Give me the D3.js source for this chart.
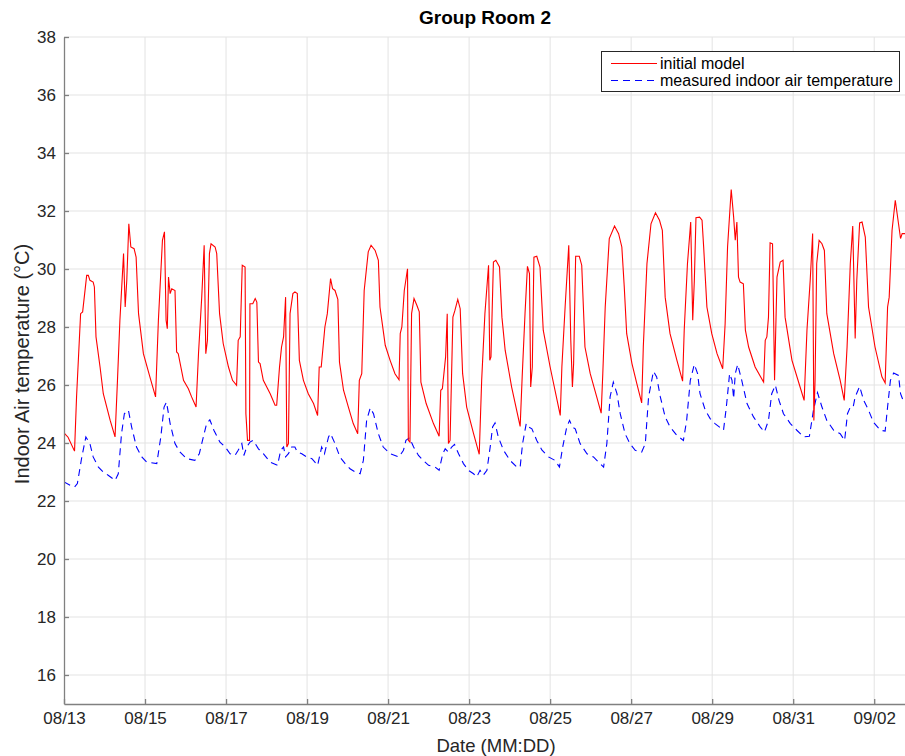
<!DOCTYPE html>
<html>
<head>
<meta charset="utf-8">
<script src="https://cdn.jsdelivr.net/npm/d3@7"></script>
<style>
  body { margin: 0; background: #fff; }
  svg { display: block; font-family: "Liberation Sans", Arial, sans-serif; }
</style>
</head>
<body>
<div id="chart"></div>
<script>
// days since 08/13 00:00 and temperature (°C)
const redDay = [0.00,0.10,0.26,0.31,0.41,0.46,0.56,0.60,0.64,0.72,0.75,0.79,0.89,0.97,1.14,1.26,1.32,1.38,1.47,1.51,1.55,1.60,1.65,1.73,1.78,1.84,1.96,2.12,2.26,2.33,2.43,2.48,2.52,2.55,2.58,2.62,2.66,2.74,2.78,2.82,2.95,3.07,3.15,3.26,3.32,3.40,3.46,3.50,3.54,3.59,3.63,3.73,3.77,3.84,3.93,4.06,4.16,4.26,4.30,4.35,4.40,4.47,4.49,4.53,4.58,4.59,4.66,4.72,4.76,4.80,4.84,4.92,5.09,5.21,5.25,5.32,5.37,5.42,5.47,5.50,5.54,5.58,5.65,5.70,5.76,5.81,5.91,6.03,6.16,6.26,6.30,6.35,6.44,6.50,6.58,6.63,6.69,6.76,6.80,6.90,7.02,7.14,7.25,7.29,7.35,7.41,7.51,7.58,7.68,7.76,7.80,7.93,8.05,8.17,8.27,8.30,8.34,8.40,8.48,8.50,8.54,8.58,8.64,8.71,8.77,8.81,8.94,9.12,9.26,9.30,9.34,9.42,9.46,9.49,9.53,9.60,9.65,9.72,9.78,9.84,9.94,10.11,10.25,10.31,10.39,10.48,10.51,10.54,10.60,10.66,10.75,10.81,10.89,11.05,11.26,11.31,11.38,11.44,11.49,11.52,11.56,11.60,11.67,11.75,11.83,12.00,12.25,12.29,12.37,12.46,12.51,12.55,12.58,12.63,12.72,12.78,12.86,12.99,13.15,13.26,13.30,13.36,13.46,13.59,13.69,13.77,13.83,13.89,14.02,14.14,14.26,14.30,14.39,14.49,14.60,14.70,14.77,14.84,14.96,15.13,15.27,15.31,15.39,15.47,15.52,15.56,15.60,15.69,15.75,15.79,15.87,15.99,16.12,16.26,16.32,16.38,16.47,16.53,16.57,16.61,16.65,16.69,16.77,16.82,16.90,17.06,17.27,17.31,17.35,17.39,17.43,17.49,17.54,17.60,17.68,17.75,17.80,17.97,18.17,18.27,18.34,18.42,18.48,18.51,18.54,18.58,18.64,18.71,18.77,18.83,19.00,19.16,19.26,19.33,19.41,19.47,19.53,19.57,19.64,19.70,19.78,19.86,20.02,20.19,20.27,20.33,20.37,20.44,20.52,20.60,20.65,20.69,20.77];
const redTemp = [24.35,24.20,23.72,25.59,28.46,28.52,29.78,29.78,29.61,29.55,29.38,27.66,26.62,25.70,24.78,24.21,26.16,28.23,30.53,28.69,29.61,31.56,30.76,30.70,30.41,28.46,27.08,26.28,25.59,28.23,30.99,31.28,28.23,27.94,29.72,29.15,29.32,29.26,27.14,27.08,26.16,25.87,25.59,25.24,27.08,29.03,30.82,27.08,27.54,30.53,30.87,30.76,30.53,28.46,27.43,26.62,26.16,25.99,27.54,27.66,30.13,30.07,25.01,24.09,24.09,28.80,28.80,28.98,28.86,26.79,26.74,26.16,25.70,25.30,25.30,26.62,27.31,27.66,29.03,23.86,23.98,28.46,29.15,29.21,29.15,26.85,26.16,25.70,25.36,24.95,26.62,26.62,28.00,28.46,29.67,29.32,29.26,28.95,26.79,25.82,25.24,24.67,24.32,26.16,26.39,29.26,30.59,30.82,30.64,30.30,28.69,27.37,26.85,26.39,26.18,27.77,28.00,29.26,30.01,24.09,24.03,28.46,28.98,28.75,28.52,26.10,25.36,24.67,24.23,25.82,25.87,26.97,28.46,23.98,24.09,28.34,28.57,28.95,28.63,26.39,25.24,24.32,23.61,26.16,28.46,30.13,26.85,26.97,30.24,30.30,30.07,28.34,27.20,25.93,24.57,26.28,28.46,30.09,29.84,25.93,26.62,30.41,30.44,30.07,27.89,26.62,24.95,26.62,28.69,30.82,27.54,25.93,26.74,30.44,30.44,30.13,27.31,26.39,25.59,25.03,26.39,28.69,31.05,31.48,31.22,30.76,29.38,27.77,26.74,26.05,25.38,27.31,30.18,31.56,31.94,31.68,31.33,29.03,27.77,26.85,26.13,27.89,30.18,31.62,28.23,29.61,31.77,31.79,31.68,30.76,28.69,27.77,27.08,26.56,28.11,30.76,32.74,31.79,30.99,31.62,29.72,29.55,29.49,27.89,27.31,26.62,26.10,27.54,27.66,28.34,30.90,30.87,26.16,29.72,30.24,30.30,28.34,26.85,25.93,25.47,27.89,29.61,31.22,24.78,26.16,30.18,30.99,30.87,30.64,28.46,27.08,26.16,25.47,27.31,30.18,31.48,27.60,29.61,31.59,31.62,31.10,28.69,27.31,26.28,26.07,28.69,29.03,31.33,32.37,31.56,31.05,31.22,31.22];

const blueDay = [0.00,0.15,0.26,0.33,0.44,0.54,0.64,0.72,0.85,0.97,1.09,1.26,1.34,1.42,1.49,1.59,1.67,1.79,1.92,2.04,2.29,2.39,2.47,2.53,2.62,2.74,2.86,3.03,3.23,3.34,3.44,3.52,3.60,3.70,3.85,3.98,4.10,4.22,4.30,4.39,4.44,4.51,4.59,4.67,4.80,4.92,5.09,5.27,5.35,5.42,5.47,5.54,5.62,5.70,5.76,5.87,5.99,6.12,6.26,6.36,6.43,6.53,6.58,6.69,6.81,6.94,7.06,7.19,7.31,7.39,7.47,7.56,7.64,7.76,7.88,8.05,8.27,8.38,8.44,8.53,8.63,8.75,8.87,9.00,9.16,9.26,9.35,9.41,9.49,9.57,9.64,9.74,9.86,9.98,10.11,10.19,10.27,10.35,10.44,10.52,10.58,10.64,10.72,10.85,11.01,11.18,11.26,11.32,11.41,11.47,11.55,11.67,11.80,11.96,12.12,12.23,12.31,12.41,12.48,12.55,12.62,12.74,12.91,13.07,13.23,13.32,13.40,13.48,13.56,13.65,13.73,13.85,13.97,14.10,14.26,14.35,14.43,14.55,14.63,14.72,14.84,14.96,15.13,15.29,15.37,15.46,15.56,15.64,15.70,15.83,15.95,16.07,16.28,16.35,16.43,16.49,16.53,16.57,16.63,16.73,16.86,17.02,17.19,17.29,17.39,17.47,17.56,17.65,17.76,17.93,18.09,18.26,18.40,18.50,18.60,18.71,18.83,19.00,19.16,19.27,19.34,19.41,19.48,19.53,19.64,19.74,19.86,19.98,20.15,20.27,20.33,20.40,20.48,20.60,20.65,20.73];
const blueTemp = [22.66,22.54,22.48,22.60,23.52,24.21,23.98,23.52,23.17,23.00,22.89,22.71,22.94,24.32,25.01,25.13,24.55,23.86,23.52,23.34,23.29,24.21,25.24,25.41,24.67,23.98,23.69,23.46,23.40,23.63,24.21,24.67,24.80,24.44,24.03,23.86,23.63,23.57,23.75,23.98,23.57,23.86,24.03,24.09,23.80,23.63,23.34,23.23,23.75,23.86,23.52,23.63,23.86,23.86,23.69,23.63,23.52,23.46,23.23,23.86,23.63,24.21,24.32,23.98,23.52,23.29,23.11,23.00,22.94,23.40,24.78,25.21,25.01,24.32,23.86,23.63,23.52,23.75,24.09,24.18,23.86,23.57,23.40,23.23,23.17,23.06,23.63,23.80,23.69,23.86,23.95,23.63,23.29,23.06,22.94,22.83,23.06,22.89,23.06,23.86,24.55,24.69,24.21,23.75,23.40,23.17,23.17,23.98,24.67,24.55,24.49,24.09,23.75,23.52,23.40,23.17,23.86,24.55,24.78,24.55,24.49,23.98,23.63,23.52,23.29,23.17,23.98,25.59,26.10,25.70,25.01,24.32,23.98,23.75,23.69,23.98,25.59,26.47,26.28,25.59,24.90,24.55,24.26,24.09,24.78,26.16,26.71,26.39,25.70,25.13,24.84,24.67,24.44,25.24,26.39,26.16,25.53,26.39,26.71,26.16,25.36,24.90,24.55,24.38,24.78,25.70,25.99,25.47,25.01,24.67,24.44,24.21,24.23,25.13,25.74,25.24,24.78,24.44,24.32,24.09,25.01,25.24,25.24,25.59,25.95,25.47,25.13,24.72,24.44,24.41,25.24,26.16,26.41,26.33,25.70,25.41];

const tickDays = [0,2,4,6,8,10,12,14,16,18,20];
const yTicks = [16,18,20,22,24,26,28,30,32,34,36,38];
const seriesNames = ["initial model", "measured indoor air temperature"];

const W = 905, H = 756;
const pLeft = 64, pTop = 37, pBottom = 704;
const DAY = 864e5;
const t0 = Date.UTC(2017, 7, 13);
const toDate = d => new Date(t0 + d * DAY);

const svg = d3.select("#chart").append("svg")
    .attr("width", W)
    .attr("height", H);

var x = d3.scaleUtc()
    .domain([toDate(0), toDate(20.76)])
    .range([pLeft, W]);
var y = d3.scaleLinear()
    .domain([15, 38])
    .range([pBottom, pTop]);

const tickDates = tickDays.map(toDate);
const fmt = d3.utcFormat("%m/%d");

// grid
svg.append("g")
    .selectAll("line")
    .data(tickDates.slice(1))
    .join("line")
    .attr("x1", d => x(d)).attr("x2", d => x(d))
    .attr("y1", pTop).attr("y2", pBottom)
    .attr("stroke", "#e3e3e3");
svg.append("g")
    .selectAll("line")
    .data(yTicks)
    .join("line")
    .attr("x1", pLeft).attr("x2", W)
    .attr("y1", d => y(d)).attr("y2", d => y(d))
    .attr("stroke", "#e3e3e3");

// lines
svg.append("clipPath").attr("id", "clip")
    .append("rect").attr("x", pLeft).attr("y", pTop).attr("width", W - pLeft).attr("height", pBottom - pTop);

const redData = redDay.map((d, i) => ({ t: toDate(d), v: redTemp[i] }));
const blueData = blueDay.map((d, i) => ({ t: toDate(d), v: blueTemp[i] }));

const line = d3.line().x(d => x(d.t)).y(d => y(d.v));

svg.append("path")
    .datum(blueData)
    .attr("clip-path", "url(#clip)")
    .attr("fill", "none")
    .attr("stroke", "#0000ff")
    .attr("stroke-width", 1.1)
    .attr("stroke-dasharray", "7,5")
    .attr("d", line);

svg.append("path")
    .datum(redData)
    .attr("clip-path", "url(#clip)")
    .attr("fill", "none")
    .attr("stroke", "#ff0000")
    .attr("stroke-width", 1.1)
    .attr("d", line);

// axes
const xAxis = svg.append("g")
    .attr("transform", "translate(0," + pBottom + ")")
    .call(d3.axisBottom(x).tickValues(tickDates).tickFormat(fmt).tickSizeInner(-5).tickSizeOuter(0).tickPadding(8));
const yAxis = svg.append("g")
    .attr("transform", "translate(" + pLeft + ",0)")
    .call(d3.axisLeft(y).tickValues(yTicks).tickSizeInner(-5).tickSizeOuter(0).tickPadding(8));

[xAxis, yAxis].forEach(g => {
    g.select(".domain").attr("stroke", "#808080").attr("stroke-width", 1.3);
    g.selectAll(".tick line").attr("stroke", "#808080").attr("stroke-width", 1.3);
    g.selectAll(".tick text").attr("fill", "#262626").style("font-size", "17px")
        .style("font-family", "'Liberation Sans', Arial, sans-serif");
});

// titles
svg.append("text")
    .attr("x", 485).attr("y", 24)
    .attr("text-anchor", "middle")
    .style("font-size", "19px").style("font-weight", "bold")
    .attr("fill", "#000")
    .text("Group Room 2");

svg.append("text")
    .attr("x", 496).attr("y", 752)
    .attr("text-anchor", "middle")
    .style("font-size", "18.5px")
    .attr("fill", "#262626")
    .text("Date (MM:DD)");

svg.append("text")
    .attr("transform", "translate(29,364) rotate(-90)")
    .attr("text-anchor", "middle")
    .style("font-size", "20px")
    .attr("fill", "#262626")
    .text("Indoor Air temperature (°C)");

// legend
const lg = svg.append("g");
lg.append("rect")
    .attr("x", 601.5).attr("y", 51.5).attr("width", 298).attr("height", 40)
    .attr("fill", "#fff").attr("stroke", "#262626").attr("stroke-width", 1);
const colors = ["#ff0000", "#0000ff"];
seriesNames.forEach((name, i) => {
    const yy = 63.5 + i * 17;
    lg.append("line")
        .attr("x1", 611).attr("x2", 657).attr("y1", yy).attr("y2", yy)
        .attr("stroke", colors[i]).attr("stroke-width", 1.1)
        .attr("stroke-dasharray", i ? "7,5" : null);
    lg.append("text")
        .attr("x", 660).attr("y", yy + 5.5)
        .style("font-size", "16px")
        .attr("fill", "#000")
        .text(name);
});
</script>
</body>
</html>
